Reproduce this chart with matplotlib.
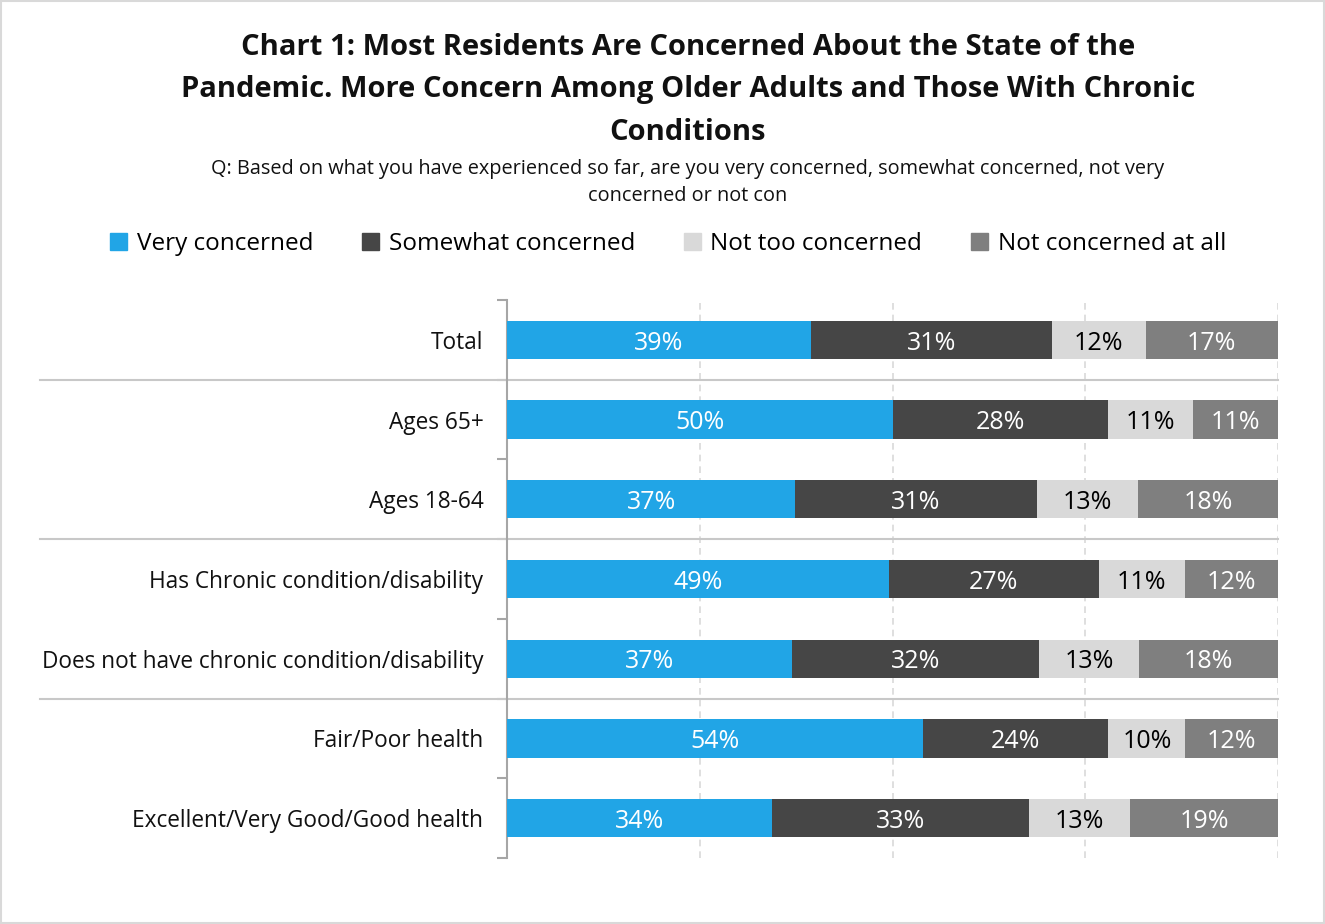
import matplotlib

matplotlib.use("Agg")

import matplotlib.pyplot as plt
from matplotlib.patches import Rectangle
import matplotlib.transforms as mtransforms

plt.rcParams["font.family"] = ["Open Sans", "DejaVu Sans"]

categories = [
    "Total",
    "Ages 65+",
    "Ages 18-64",
    "Has Chronic condition/disability",
    "Does not have chronic condition/disability",
    "Fair/Poor health",
    "Excellent/Very Good/Good health",
]
series_names = [
    "Very concerned",
    "Somewhat concerned",
    "Not too concerned",
    "Not concerned at all",
]
very = [39, 50, 37, 49, 37, 54, 34]
somewhat = [31, 28, 31, 27, 32, 24, 33]
not_too = [12, 11, 13, 11, 13, 10, 13]
not_at_all = [17, 11, 18, 12, 18, 12, 19]
group_breaks = [1, 3, 5]  # separator lines after these many rows

colors = ["#21A5E6", "#464646", "#D9D9D9", "#7F7F7F"]
label_colors = ["white", "white", "black", "white"]

fig = plt.figure(figsize=(13.25, 9.24), dpi=100)
ax = fig.add_axes([507 / 1325, 1 - 858 / 924, 771 / 1325, 558 / 924])

series = [very, somewhat, not_too, not_at_all]
n = len(categories)
ypos = list(range(n))
totals = [sum(s[i] for s in series) for i in range(n)]
left = [0.0] * n
for vals, col, tcol in zip(series, colors, label_colors):
    widths = [v / t for v, t in zip(vals, totals)]
    ax.barh(ypos, widths, left=left, height=0.48, color=col, edgecolor="none", zorder=3)
    for i, (w, l, v) in enumerate(zip(widths, left, vals)):
        ax.text(l + w / 2, i + 0.04, f"{v}%", ha="center", va="center",
                color=tcol, fontsize=18, zorder=4)
    left = [l + w for l, w in zip(left, widths)]

ax.set_xlim(0, 1)
ax.set_ylim(n - 0.5, -0.5)

# dashed vertical gridlines
for x in [0.25, 0.5, 0.75, 1.0]:
    ax.axvline(x, color="#D9D9D9", linestyle=(0, (4, 3)), linewidth=1.2, zorder=1)

# group separators reaching into the label area
trans = mtransforms.blended_transform_factory(fig.transFigure, ax.transData)
for b in group_breaks:
    ax.plot([40 / 1325, 1278 / 1325], [b - 0.5, b - 0.5], transform=trans,
            color="#C8C8C8", linewidth=1.5, clip_on=False, zorder=2)

ax.set_yticks(ypos)
ax.set_yticklabels(categories, fontsize=16.3, color="#111111")
ax.set_yticks([i - 0.5 for i in range(n + 1)], minor=True)
ax.tick_params(axis="y", which="major", length=0, pad=17)
ax.tick_params(axis="y", which="minor", length=7, width=1.5, color="#A6A6A6")
ax.set_xticks([])
for s in ["top", "right", "bottom"]:
    ax.spines[s].set_visible(False)
ax.spines["left"].set_color("#A6A6A6")
ax.spines["left"].set_linewidth(1.5)

fig.text(0.519, 0.964,
         "Chart 1: Most Residents Are Concerned About the State of the\n"
         "Pandemic. More Concern Among Older Adults and Those With Chronic\n"
         "Conditions",
         ha="center", va="top", fontsize=21, fontweight="bold",
         linespacing=1.6, color="#111111")
fig.text(0.519, 0.828,
         "Q: Based on what you have experienced so far, are you very concerned, somewhat concerned, not very\n"
         "concerned or not con",
         ha="center", va="top", fontsize=14.3, linespacing=1.45, color="#111111")

handles = [Rectangle((0, 0), 1, 1, color=c) for c in colors]
fig.legend(handles, series_names, loc="center", bbox_to_anchor=(668 / 1325, 1 - 244 / 924),
           ncol=4, frameon=False, fontsize=17.5, handlelength=0.7, handleheight=0.7,
           handletextpad=0.4, columnspacing=2.0)

fig.patches.append(Rectangle((0.001, 0.001), 0.998, 0.998, transform=fig.transFigure,
                             fill=False, edgecolor="#D9D9D9", linewidth=1.5))

fig.savefig("out.png", dpi=100, facecolor="white")
